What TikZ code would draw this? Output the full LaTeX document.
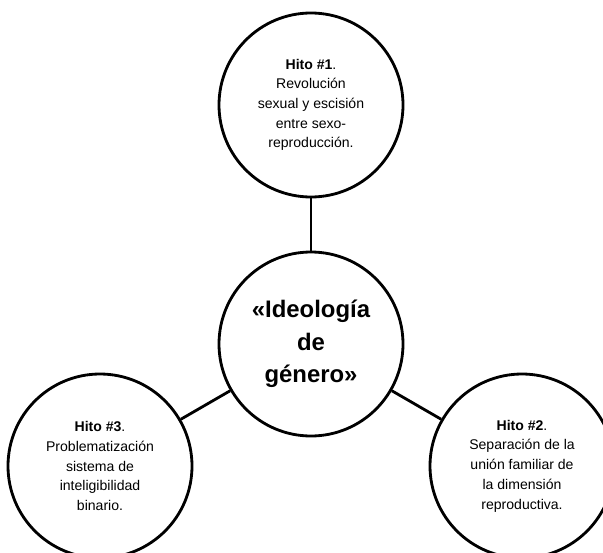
\documentclass[tikz,border=0pt]{standalone}
\usepackage{fontspec}
\setmainfont{Liberation Sans}
\usepackage{tikz}
\usetikzlibrary{positioning}
\newcommand{\ringwidth}{2pt}
\newcommand{\ringsize}{4.6cm}
\tikzset{
  hito/.style={circle, draw, line width=\ringwidth, minimum size=\ringsize, inner sep=0pt, align=center, font=\fontsize{10}{14}\selectfont},
  idea/.style={hito, font=\fontsize{17}{23}\selectfont\bfseries},
  link/.style={line width=\ringwidth}
}

\begin{document}
\begin{tikzpicture}
\useasboundingbox (0,0) rectangle (15.075,-13.8);
\clip (0,0) rectangle (15.075,-13.8);
\node[idea] (ideologia) at (7.775, -8.6) {«Ideología\\de\\género»};
\node[hito] (hito1) at (7.775, -2.625) {\textbf{Hito \#1}.\\Revolución\\sexual y escisión\\entre sexo-\\reproducción.};
\node[hito] (hito3) at (2.5, -11.65) {\textbf{Hito \#3}.\\Problematización\\sistema de\\inteligibilidad\\binario.};
\node[hito] (hito2) at (13.05, -11.65) {\textbf{Hito \#2}.\\Separación de la\\unión familiar de\\la dimensión\\reproductiva.};
%links
\draw[link] (hito1) -- (ideologia);
\draw[link] (ideologia) -- (hito3);
\draw[link] (ideologia) -- (hito2);
\end{tikzpicture}
\end{document}
